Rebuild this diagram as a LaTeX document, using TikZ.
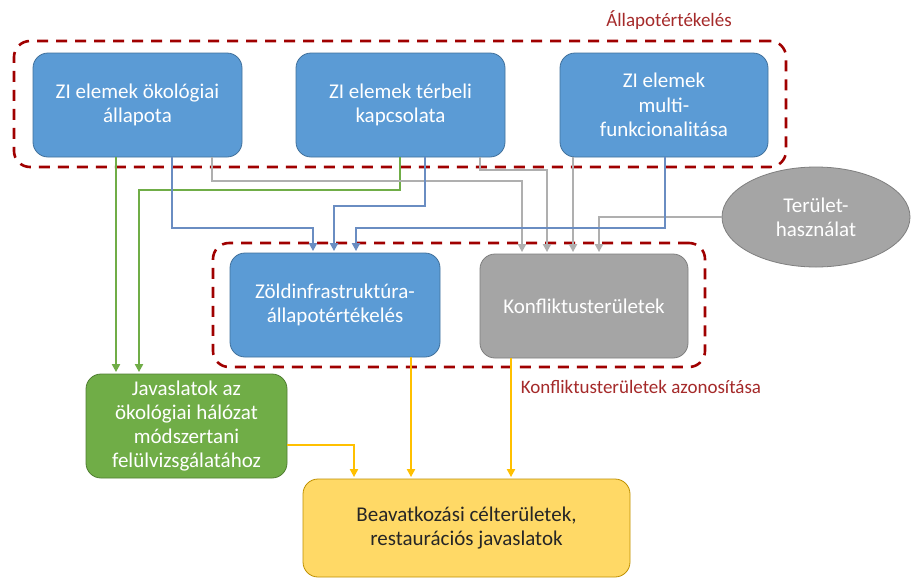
\documentclass[tikz,border=0pt]{standalone}
\usepackage{fontspec}
\setmainfont{Carlito}
\usetikzlibrary{arrows.meta,shapes.geometric}
\definecolor{bfill}{HTML}{5B9BD5}
\definecolor{bdraw}{HTML}{41719C}
\definecolor{gfill}{HTML}{70AD47}
\definecolor{gdraw}{HTML}{507E32}
\definecolor{kfill}{HTML}{A5A5A5}
\definecolor{kdraw}{HTML}{7F7F7F}
\definecolor{yfill}{HTML}{FFD966}
\definecolor{ydraw}{HTML}{BF9000}
\definecolor{dred}{HTML}{A00000}
\definecolor{lred}{HTML}{A52A2A}
\definecolor{bline}{HTML}{6A8DC2}
\definecolor{gline}{HTML}{70AD47}
\definecolor{kline}{HTML}{AFAFAF}
\definecolor{yline}{HTML}{FFC000}
\tikzset{
  box/.style={rectangle, rounded corners=15pt, line width=0.8pt, align=center,
    font=\fontsize{21}{24.3}\selectfont, text=white, inner sep=2pt},
  bluebox/.style={box, fill=bfill, draw=bdraw, minimum width=209pt, minimum height=104pt},
  greenbox/.style={box, fill=gfill, draw=gdraw, minimum width=201pt, minimum height=104pt},
  graybox/.style={box, fill=kfill, draw=kdraw, minimum width=208pt, minimum height=104pt},
  yellowbox/.style={box, fill=yfill, draw=ydraw, text=black!85, minimum width=327pt, minimum height=98pt},
  ellbox/.style={ellipse, fill=kfill, draw=kdraw, line width=0.8pt, align=center,
    font=\fontsize{21}{24.3}\selectfont, text=white, minimum width=188pt, minimum height=100pt, inner sep=0pt},
  groupbox/.style={rectangle, rounded corners=16pt, draw=dred, line width=2.6pt,
    dash pattern=on 11pt off 8pt, inner sep=0pt},
  grouplabel/.style={text=lred, font=\fontsize{19}{22}\selectfont},
  conn/.style={line width=2pt, shorten >=1.5pt, -{Triangle[length=8pt,width=8pt]}},
  bconn/.style={conn, draw=bline},
  gconn/.style={conn, draw=gline},
  kconn/.style={conn, draw=kline},
  yconn/.style={conn, draw=yline},
}
\begin{document}
\begin{tikzpicture}[x=1pt,y=-1pt]
\useasboundingbox[fill=white] (0,0) rectangle (912,579);

% group frames
\node[groupbox, minimum width=772pt, minimum height=126pt] (grp1) at (400,104) {};
\node[groupbox, minimum width=492pt, minimum height=124pt] (grp2) at (459,305) {};
\node[grouplabel] (lab1) at (669,20) {Állapotértékelés};
\node[grouplabel] (lab2) at (641,387) {Konfliktusterületek azonosítása};

% nodes
\node[bluebox] (A) at (137.5,105) {ZI elemek ökológiai\\állapota};
\node[bluebox] (B) at (400.5,105) {ZI elemek térbeli\\kapcsolata};
\node[bluebox, minimum width=208pt] (C) at (664,105) {ZI elemek\\multi-\\funkcionalitása};
\node[ellbox] (H) at (816,217) {Terület-\\használat};
\node[bluebox, minimum width=210pt] (D) at (335,305) {Zöldinfrastruktúra-\\állapotértékelés};
\node[graybox] (E) at (584,306) {Konfliktusterületek};
\node[greenbox] (F) at (186.5,426) {Javaslatok az\\ökológiai hálózat\\módszertani\\felülvizsgálatához};
\node[yellowbox] (G) at (466.5,528) {Beavatkozási célterületek,\\restaurációs javaslatok};

% green connectors
\draw[gconn] ([xshift=-21.5pt]A.south) -- ([xshift=-70.5pt]F.north);
\draw[gconn] ([xshift=-0.5pt]B.south) -- ++(0,33) -| ([xshift=-47.5pt]F.north);
% gray connectors
\draw[kconn] ([xshift=74.5pt]A.south) -- ++(0,24) -| ([xshift=-62pt]E.north);
\draw[kconn] ([xshift=79.5pt]B.south) -- ++(0,13) -| ([xshift=-37pt]E.north);
\draw[kconn] ([xshift=-91pt]C.south) -- ([xshift=-11pt]E.north);
\draw[kconn] (H.west) -| ([xshift=15pt]E.north);
% blue connectors
\draw[bconn] ([xshift=34.5pt]A.south) -- ++(0,71) -| ([xshift=-22pt]D.north);
\draw[bconn] ([xshift=24.5pt]B.south) -- ++(0,49) -| ([xshift=-1pt]D.north);
\draw[bconn] ([xshift=1pt]C.south) -- ++(0,71) -| ([xshift=21pt]D.north);
% yellow connectors
\draw[yconn] ([xshift=76pt]D.south) -- ([xshift=-55.5pt]G.north);
\draw[yconn] ([xshift=-73pt]E.south) -- ([xshift=44.5pt]G.north);
\draw[yconn] ([yshift=-19pt]F.east) -| ([xshift=-112.5pt]G.north);
\end{tikzpicture}
\end{document}
